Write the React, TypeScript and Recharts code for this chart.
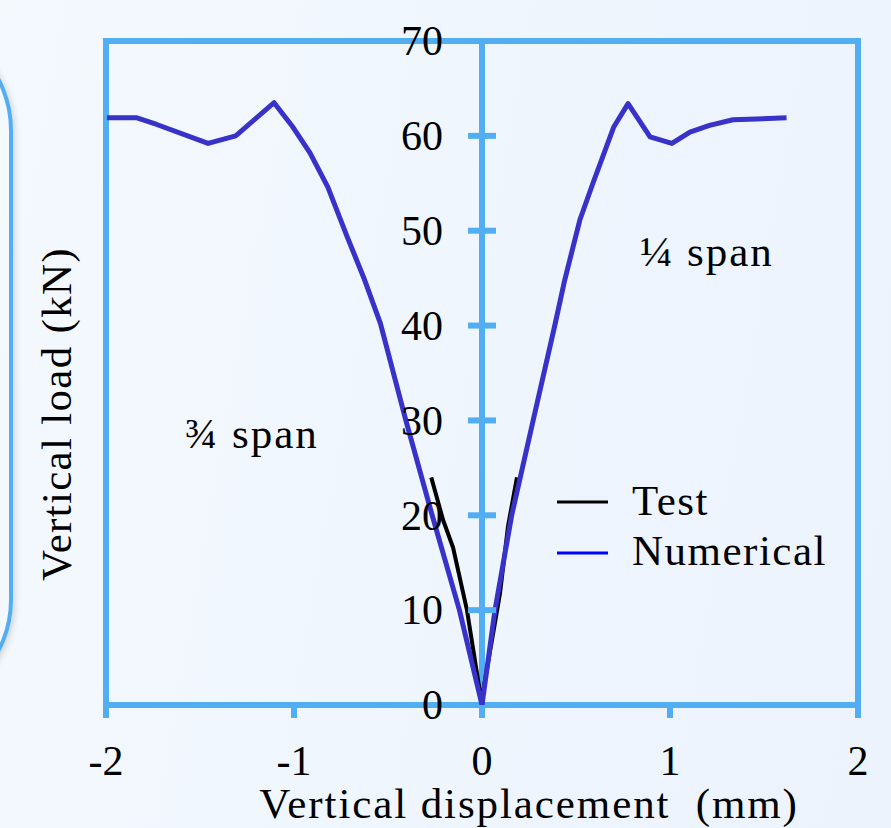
import React from 'react';
import { LineChart, Line, XAxis, YAxis, ReferenceLine, ReferenceArea } from 'recharts';

// Vertical displacement (mm) vs vertical load (kN)
const xTicks = [-2, -1, 0, 1, 2];
const yTicks = [0, 10, 20, 30, 40, 50, 60, 70];

const numericalX = [
  -1.995, -1.835, -1.73, -1.457, -1.31, -1.106, -1.005, -0.915, -0.82, -0.718, -0.63, -0.54,
  -0.405, -0.265, -0.12, 0, 0.069, 0.158, 0.272, 0.387, 0.44, 0.52, 0.59, 0.7, 0.777, 0.894,
  1.01, 1.106, 1.21, 1.335, 1.62,
];
const numericalY = [
  61.9, 61.9, 61.2, 59.2, 60.0, 63.5, 60.9, 58.2, 54.6, 49.4, 45.1, 40.2,
  30, 20, 10, 0, 10, 20, 30, 40, 44.8, 51.1, 55, 60.9, 63.4, 59.9,
  59.2, 60.4, 61.1, 61.7, 61.9,
];

const testX = [-0.27, -0.207, -0.154, -0.08, 0, 0.005, 0.096, 0.138, 0.186];
const testY = [24.0, 19.5, 16.6, 10, 0, 1.3, 11.8, 18.8, 24.0];

const numericalData = numericalX.map((x, i) => ({ x, y: numericalY[i] }));
const testData = testX.map((x, i) => ({ x, y: testY[i] }));

const W = 891;
const H = 828;
const M = { top: 41, right: 33, bottom: 63, left: 96 };
const Y_W = 10;
const PLOT_L = M.left + Y_W;
const MID = PLOT_L + (W - PLOT_L - M.right) / 2;

const AXIS = '#52aef2';
const NUM = '#3832c9';
const FONT = '"Liberation Serif", "Times New Roman", serif';

const renderYTick = (props: any) => {
  const { y, payload } = props;
  return (
    <g>
      {payload.value !== 0 && (
        <line x1={MID - 14} x2={MID + 14} y1={y} y2={y} stroke={AXIS} strokeWidth={6} />
      )}
      <text x={MID - 39} y={y} dy="0.34em" textAnchor="end" fontFamily={FONT} fontSize={42} fill="#000">
        {payload.value}
      </text>
    </g>
  );
};

export default function App() {
  return (
    <div
      style={{
        position: 'fixed',
        left: 0,
        top: 0,
        width: W,
        height: H,
        overflow: 'hidden',
        background: 'linear-gradient(100deg, #f4f9fe 0%, #eef5fd 60%, #ecf3fd 100%)',
      }}
    >
      <div
        style={{
          position: 'absolute',
          left: 13 - 300,
          top: 20,
          width: 300,
          height: 690,
          boxSizing: 'border-box',
          border: `4px solid ${AXIS}`,
          borderRadius: 110,
          boxShadow: '2px 2px 6px rgba(0,0,0,0.15)',
        }}
      />
      <div style={{ position: 'absolute', left: 0, top: 0 }}>
        <LineChart width={W} height={H} margin={M}>
          <ReferenceArea x1={-2} x2={2} y1={0} y2={70} fill="none" stroke={AXIS} strokeWidth={6} ifOverflow="visible" />
          <XAxis
            type="number"
            dataKey="x"
            domain={[-2, 2]}
            ticks={xTicks}
            allowDataOverflow
            height={60}
            axisLine={false}
            tickLine={{ stroke: AXIS, strokeWidth: 6 }}
            tickSize={13}
            tickMargin={27}
            tick={{ fill: '#000', fontSize: 42, fontFamily: FONT }}
          />
          <YAxis
            type="number"
            dataKey="y"
            domain={[0, 70]}
            ticks={yTicks}
            interval={0}
            width={Y_W}
            axisLine={false}
            tickLine={false}
            tick={renderYTick}
          />
          <ReferenceLine x={0} stroke={AXIS} strokeWidth={6} />
          <Line
            data={testData}
            dataKey="y"
            name="Test"
            type="linear"
            stroke="#000"
            strokeWidth={4}
            strokeLinejoin="round"
            dot={false}
            isAnimationActive={false}
          />
          <Line
            data={numericalData}
            dataKey="y"
            name="Numerical"
            type="linear"
            stroke={NUM}
            strokeWidth={5}
            strokeLinejoin="round"
            dot={false}
            isAnimationActive={false}
          />
        </LineChart>
      </div>
      <svg
        width={W}
        height={H}
        style={{ position: 'absolute', left: 0, top: 0, pointerEvents: 'none' }}
        fontFamily={FONT}
        fontSize={43}
        fill="#000"
      >
        <text x={529} y={818} textAnchor="middle" letterSpacing={1.9}>
          {'Vertical displacement\u00a0 (mm)'}
        </text>
        <text x={71} y={414} textAnchor="middle" letterSpacing={1.3} transform="rotate(-90 71 414)">
          Vertical load (kN)
        </text>
        <text x={185} y={448} letterSpacing={2}>
          ¾ span
        </text>
        <text x={640} y={266} letterSpacing={2}>
          ¼ span
        </text>
        <line x1={557} x2={608} y1={502} y2={502} stroke="#000" strokeWidth={3} />
        <text x={632} y={515} letterSpacing={1.5}>
          Test
        </text>
        <line x1={557} x2={608} y1={553} y2={553} stroke="#0000ff" strokeWidth={3} />
        <text x={632} y={565} letterSpacing={1.5}>
          Numerical
        </text>
      </svg>
    </div>
  );
}
